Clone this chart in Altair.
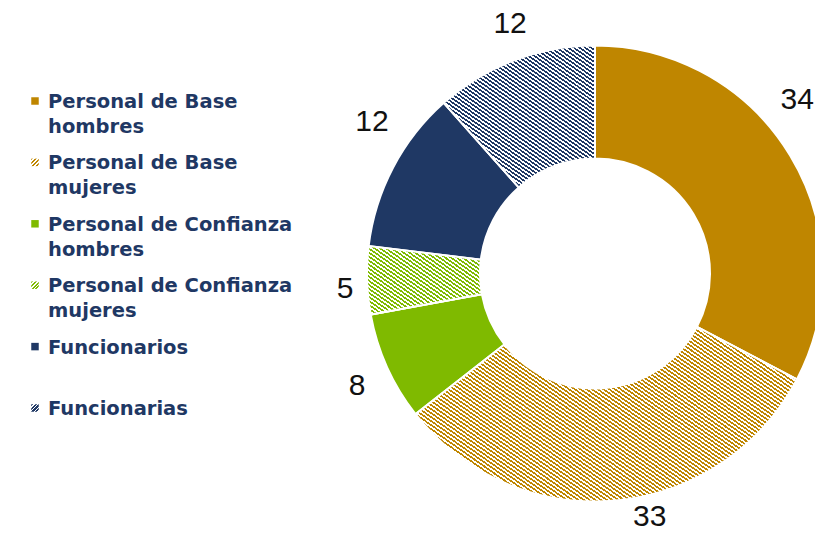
import math
import altair as alt
import pandas as pd

# ---------------- data ----------------
categories = [
    "Personal de Base hombres",
    "Personal de Base mujeres",
    "Personal de Confianza hombres",
    "Personal de Confianza mujeres",
    "Funcionarios",
    "Funcionarias",
]
legend_labels = [
    "Personal de Base\nhombres",
    "Personal de Base\nmujeres",
    "Personal de Confianza\nhombres",
    "Personal de Confianza\nmujeres",
    "Funcionarios",
    "Funcionarias",
]
values = [34, 33, 8, 5, 12, 12]
hatched = [False, True, False, True, False, True]

# ---------------- style ----------------
colors = ["#BF8600", "#BF8600", "#7FBA00", "#7FBA00", "#1F3864", "#1F3864"]
base_fill = [("#FFFFFF" if h else c) for c, h in zip(colors, hatched)]
CX, CY = 587, 265.5
R_OUT, R_IN = 228, 115
LABEL_R = 262
label_offsets = [(-22, -38), (31, -17), (1, 5), (12, 8), (9, -30), (8, -5)]


def hatch(color, w, h, angle_deg=35.0, period=3.3, frac=0.5, gap="#FFFFFF"):
    a = math.radians(angle_deg)
    nx, ny = -math.sin(a), math.cos(a)
    L = abs(nx) * w + abs(ny) * h
    S = (w * nx) ** 2 + (h * ny) ** 2
    k = L / S
    x1 = 1.0 if nx < 0 else 0.0
    y1 = 0.0 if ny > 0 else 1.0
    x2 = x1 + k * w * nx
    y2 = y1 + k * h * ny
    n = max(1, round(L / period))
    stops = []
    for i in range(n):
        o0, o1, o2 = i / n, (i + frac) / n, (i + 1) / n
        stops += [(o0, color), (o1, color), (o1, gap), (o2, gap)]
    return alt.LinearGradient(
        gradient="linear", x1=x1, y1=y1, x2=x2, y2=y2,
        stops=[alt.GradientStop(offset=o, color=c) for o, c in stops],
    )


def arc_bbox(start_deg, end_deg):
    xs, ys = [], []
    for i in range(241):
        a = math.radians(start_deg + (end_deg - start_deg) * i / 240)
        for r in (R_IN, R_OUT):
            xs.append(r * math.sin(a))
            ys.append(-r * math.cos(a))
    return max(xs) - min(xs), max(ys) - min(ys)


total = sum(values)
df = pd.DataFrame({
    "idx": list(range(len(categories))),
    "cat": categories,
    "legend": legend_labels,
    "value": values,
})

base = alt.Chart(df)
theta = alt.Theta("value:Q", stack=True)
order = alt.Order("idx:Q")
fill_scale = alt.Scale(domain=categories, range=base_fill)

layers = []
layers.append(
    base.mark_arc(outerRadius=R_OUT, innerRadius=R_IN, stroke="white", strokeWidth=2).encode(
        theta=theta, order=order,
        fill=alt.Fill("cat:N", scale=fill_scale, legend=None),
        x=alt.value(CX), y=alt.value(CY),
    )
)

cum = 0
for i, v in enumerate(values):
    start = cum / total * 360
    cum += v
    end = cum / total * 360
    if hatched[i]:
        w, h = arc_bbox(start, end)
        layers.append(
            base.mark_arc(outerRadius=R_OUT, innerRadius=R_IN, stroke="white", strokeWidth=2,
                          fill=hatch(colors[i], w, h)).encode(
                theta=theta, order=order,
                opacity=alt.condition(f"datum.idx == {i}", alt.value(1), alt.value(0)),
                x=alt.value(CX), y=alt.value(CY),
            )
        )

# value labels
lab_base = base.transform_window(
    cum="sum(value)", sort=[alt.SortField("idx")], frame=[None, 0]
).transform_calculate(mid="datum.cum - datum.value / 2")
for i in range(len(values)):
    dx, dy = label_offsets[i]
    layers.append(
        lab_base.transform_filter(f"datum.idx == {i}").mark_text(
            radius=LABEL_R, fontSize=30, font="Liberation Sans", color="#111111",
            dx=dx, dy=dy, align="center", baseline="middle",
        ).encode(
            theta=alt.Theta("mid:Q", stack=None),
            text=alt.Text("value:Q"),
            x=alt.value(CX), y=alt.value(CY),
        )
    )

# legend
ys = alt.Scale(domain=[0, 5], range=[93, 400])
layers.append(
    base.mark_text(align="left", baseline="alphabetic", font="DejaVu Sans", fontWeight="bold",
                   fontSize=19.5, color="#1F3864", lineBreak="\n", lineHeight=25, dy=7).encode(
        x=alt.value(40),
        y=alt.Y("idx:Q", scale=ys, axis=None),
        text="legend:N",
    )
)
layers.append(
    base.transform_filter(alt.FieldOneOfPredicate(field="cat", oneOf=[c for c, h in zip(categories, hatched) if not h]))
    .mark_square(size=56, filled=True, opacity=1, strokeWidth=0).encode(
        x=alt.value(27),
        y=alt.Y("idx:Q", scale=ys, axis=None),
        fill=alt.Fill("cat:N", scale=fill_scale, legend=None),
    )
)
for i in range(len(values)):
    if hatched[i]:
        layers.append(
            base.transform_filter(f"datum.idx == {i}").mark_square(
                size=56, filled=True, opacity=1, strokeWidth=0,
                fill=hatch(colors[i], 7.5, 7.5, angle_deg=-45, period=3.0, frac=0.55),
            ).encode(
                x=alt.value(27),
                y=alt.Y("idx:Q", scale=ys, axis=None),
            )
        )

chart = alt.layer(*layers).properties(
    width=807, height=524, padding=0,
    autosize=alt.AutoSizeParams(type="none"),
).configure_view(stroke=None)
chart.save("out.html", embed_options={"renderer": "svg", "actions": False})
